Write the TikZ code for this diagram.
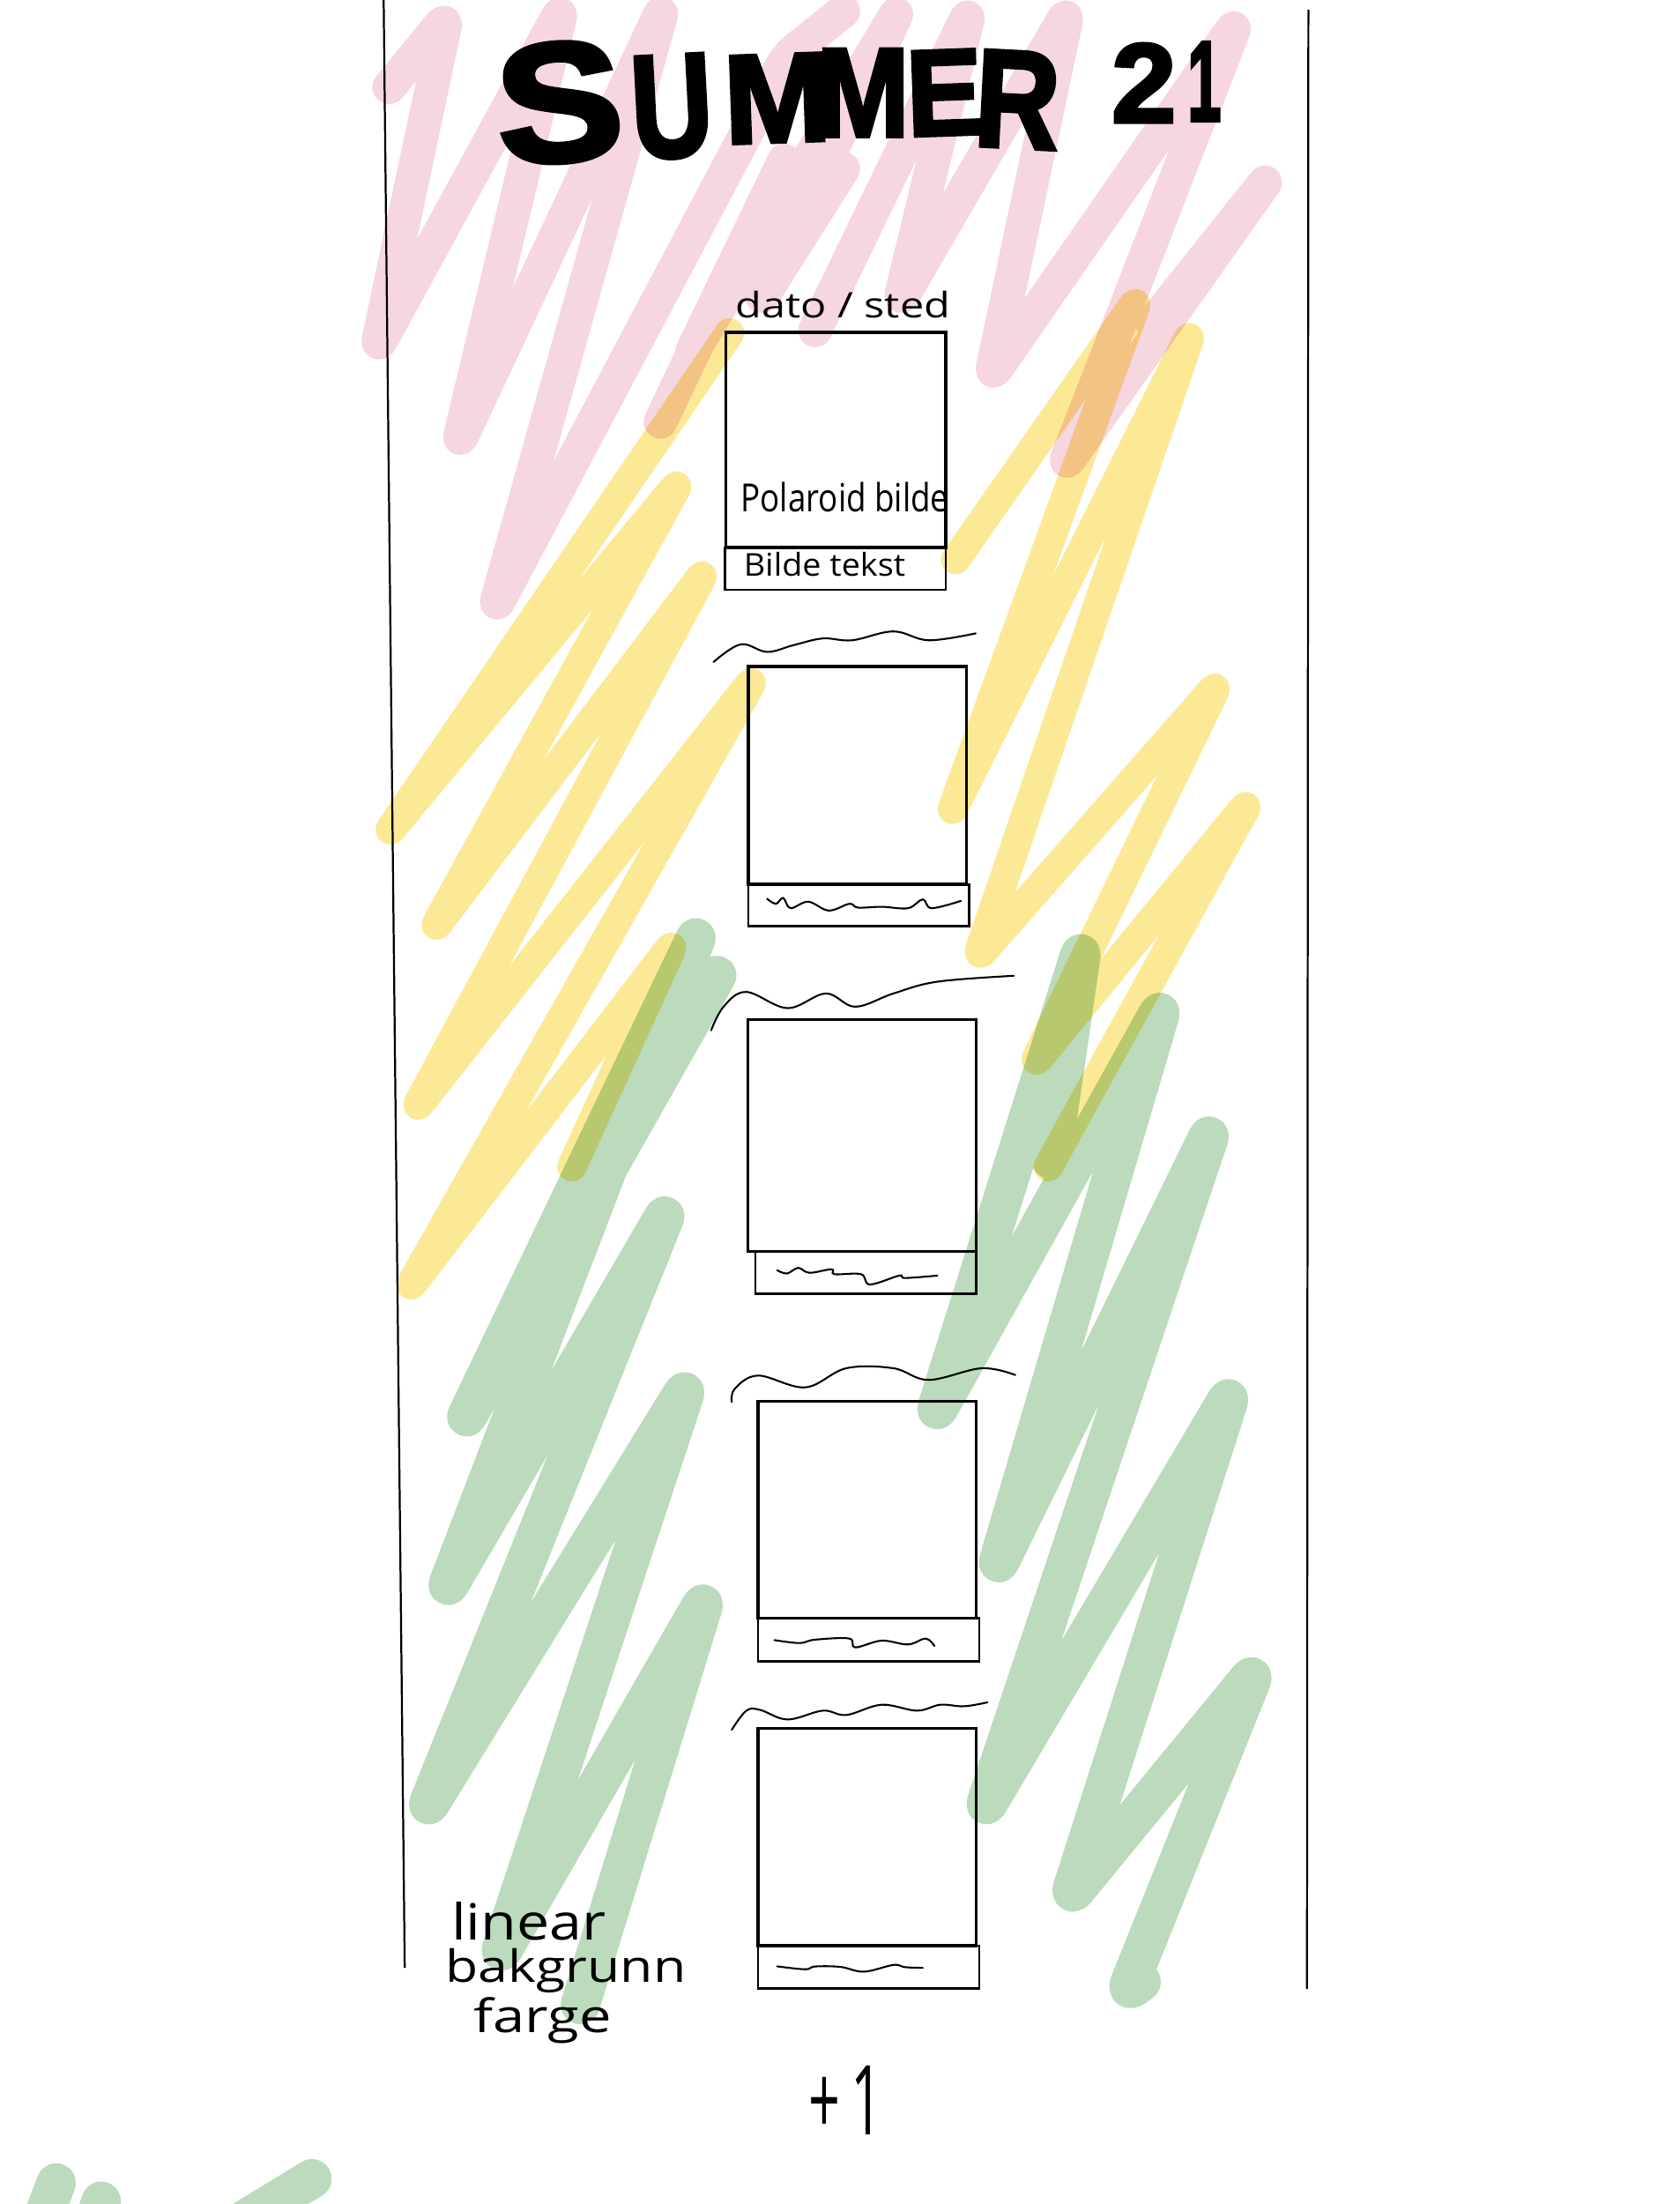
\documentclass[tikz,border=0pt]{standalone}
\usepackage{fontspec}
\usepackage{graphicx}
\newfontfamily\titlefont[FakeBold=3]{Liberation Sans}
\newfontfamily\handfont{Open Sans}
\definecolor{pinkc}{RGB}{246,214,223}
\definecolor{yelc}{RGB}{252,233,150}
\definecolor{grnc}{RGB}{187,219,188}
\tikzset{
  scrib/.style={line cap=round, line join=round, rounded corners=8pt, blend mode=multiply},
  pinkscrib/.style={scrib, draw=pinkc, line width=24pt},
  yelscrib/.style={scrib, draw=yelc, line width=21pt},
  grnscrib/.style={scrib, draw=grnc, line width=28pt},
  photo/.style={draw=black, line width=2.2pt},
  capbox/.style={draw=black, line width=1.6pt},
  ink/.style={draw=black, line width=1.3pt, line cap=round},
  pageline/.style={draw=black, line width=1.4pt},
  label/.style={inner sep=0pt, anchor=base west},
  letter/.style={inner sep=0pt, anchor=center},
}
\newcommand{\hw}[3]{\resizebox{#1pt}{#2pt}{\handfont #3}}
\newcommand{\tl}[3]{\resizebox{#1pt}{#2pt}{\titlefont\bfseries #3}}
\begin{document}
\begin{tikzpicture}[x=1pt,y=-1pt]
\useasboundingbox (0,0) rectangle (1195,1568);
\clip (0,0) rectangle (1195,1568);
\fill[white] (0,0) rectangle (1195,1568);

% pink scribbles
\draw[pinkscrib] (277,62) -- (318,12) -- (268,248) -- (400,6) -- (326,316) -- (472,5) -- (352,433) -- (560,40) -- (600,8);
\draw[pinkscrib] (470,300) -- (560,110) -- (490,255) -- (640,6) -- (540,215) -- (600,120);
\draw[pinkscrib] (580,235) -- (690,8) -- (640,215) -- (760,8) -- (705,268) -- (880,16) -- (757,332) -- (903,126) -- (820,230);

% yellow scribbles
\draw[yelscrib] (519,237) -- (275,594) -- (484,342) -- (308,662) -- (502,406) -- (295,790) -- (537,482) -- (290,918) -- (480,670) -- (407,830);
\draw[yelscrib] (680,398) -- (810,212) -- (676,580) -- (848,236) -- (695,682) -- (867,486) -- (735,758) -- (889,570) -- (746,830);

% green scribbles
\draw[grnscrib] (510,694) -- (330,1012) -- (497,663) -- (317,1132) -- (475,861) -- (303,1288) -- (489,986) -- (355,1392) -- (502,1137) -- (413,1426);
\draw[grnscrib] (748,825) -- (770,674) -- (665,1007) -- (827,716) -- (709,1116) -- (862,804) -- (700,1288) -- (876,991) -- (761,1350) -- (893,1189) -- (801,1418) -- (812,1410);
\draw[grnscrib] (40,1553) -- (22,1600);
\draw[grnscrib] (72,1566) -- (60,1600);
\draw[grnscrib] (222,1550) -- (140,1600);

% page lines
\draw[pageline] (273,0) -- (288,1400);
\draw[pageline] (931,7) -- (930,1415);

% title
\node[letter, rotate=4]  (tS)  at (398,73) {\tl{90}{84}{S}};
\node[letter, rotate=3]  (tU)  at (478,76) {\tl{58}{72}{U}};
\node[letter, rotate=2]  (tM1) at (553,70) {\tl{76}{62}{M}};
\node[letter, rotate=0]  (tM2) at (614,66) {\tl{66}{62}{M}};
\node[letter, rotate=2]  (tE)  at (672,66) {\tl{54}{60}{E}};
\node[letter, rotate=-3] (tR)  at (724,71) {\tl{60}{68}{R}};
\node[letter]            (t2)  at (814,59) {\tl{46}{56}{2}};
\node[letter]            (t1)  at (857,58) {\tl{24}{56}{1}};

% polaroid 1
\node[label] (dato) at (523,226) {\hw{153}{19}{dato / sted}};
\draw[photo] (516.5,236.5) rectangle (673,389.5);
\draw[capbox] (516,389.5) rectangle (673,419.5);
\node[label] (pb) at (527,364) {\hw{148}{21}{Polaroid bilde}};
\node[label] (bt) at (529,410) {\hw{115}{17}{Bilde tekst}};

% polaroid 2
\draw[ink] plot[smooth, tension=0.6] coordinates {(507.7,471) (527,458.4) (545.8,463.8) (564.6,459) (585.5,454.2) (606.4,455.5) (635.7,449.2) (660.8,455.5) (694.3,450.6)};
\draw[photo] (532.6,474) rectangle (687.6,629);
\draw[capbox] (532.6,629) rectangle (689.5,659);
\draw[ink] plot[smooth, tension=0.6] coordinates {(545.8,639.4) (552.1,643) (557.3,638.8) (562.5,646.1) (575.1,641.5) (589.7,647.8) (604.4,643) (610.6,645.7) (627.4,645.1) (646.2,646.1) (656.6,639.8) (662.9,646.1) (683.8,640.9)};

% polaroid 3
\draw[ink] plot[smooth, tension=0.6] coordinates {(506,733) (515,716) (531.1,705.7) (560.4,717.2) (587.6,706.8) (608.5,716.2) (635.7,706.8) (667,698.4) (721.4,694.2)};
\draw[photo] (532.2,725.2) rectangle (694.6,890.4);
\draw[capbox] (537.4,890.4) rectangle (694.6,920.5);
\draw[ink] plot[smooth, tension=0.6] coordinates {(553,903.7) (560,906) (568,902) (576,905.5) (591.8,903) (593.8,906.5) (612.7,906.5) (619,913.8) (639.9,907.5) (644,909.2) (667,907.5)};

% polaroid 4
\draw[ink] plot[smooth, tension=0.6] coordinates {(520.7,997.4) (522.8,988) (539.5,978.6) (573,987) (602.2,973.4) (635.7,973.4) (660.8,981.7) (698.4,973.4) (722.4,978.2)};
\draw[photo] (539.5,996.8) rectangle (694.6,1151.1);
\draw[capbox] (539.5,1151.1) rectangle (696.9,1181.8);
\draw[ink] plot[smooth, tension=0.6] coordinates {(551,1166.8) (568.8,1168.9) (580,1166.5) (604.3,1165.7) (608.5,1172) (627.3,1167.2) (646.1,1169.9) (658.7,1165.7) (664.9,1171)};

% polaroid 5
\draw[ink] plot[smooth, tension=0.6] coordinates {(520.7,1230.6) (531.1,1217) (541,1216.5) (560.4,1223.3) (585.5,1217) (602.2,1220.1) (627.3,1212.8) (652.4,1217) (669.1,1212.8) (685.9,1213.9) (702.6,1211.1)};
\draw[photo] (539.5,1229.5) rectangle (694.6,1384.3);
\draw[capbox] (539.5,1384.3) rectangle (696.9,1414.6);
\draw[ink] plot[smooth, tension=0.6] coordinates {(553,1398.9) (572.9,1401) (580,1399) (598,1399.3) (614.8,1402.7) (635.7,1397.9) (644,1399.5) (656.6,1400)};

% notes
\node[label] (lin) at (321,1380) {\hw{110}{27}{linear}};
\node[label] (bak) at (317,1410) {\hw{171}{24}{bakgrunn}};
\node[label] (far) at (337,1446) {\hw{98}{25}{farge}};
\node[label] (plus) at (575,1519) {\hw{53}{49}{+\hspace{0.2em}1}};
\end{tikzpicture}
\end{document}
